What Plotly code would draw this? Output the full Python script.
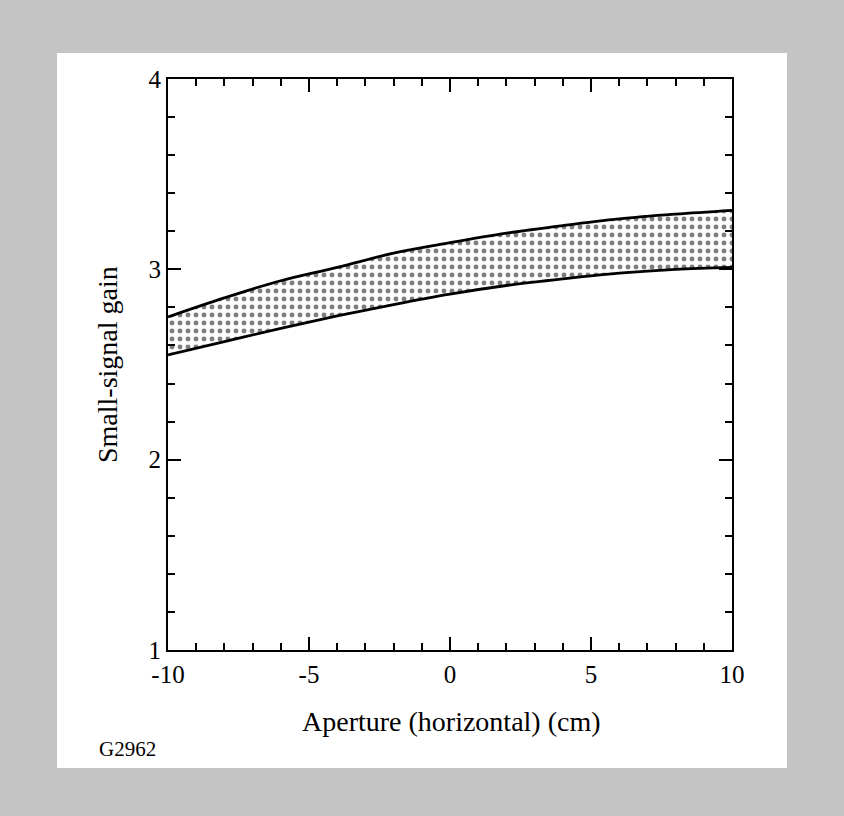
import plotly.graph_objects as go

aperture_cm = [-10, -8, -6, -4, -2, 0, 2, 4, 6, 8, 10]
gain_upper = [2.75, 2.85, 2.94, 3.01, 3.085, 3.14, 3.19, 3.23, 3.265, 3.29, 3.31]
gain_lower = [2.55, 2.62, 2.69, 2.755, 2.815, 2.87, 2.915, 2.95, 2.98, 3.00, 3.01]

x_ticks = [-10, -5, 0, 5, 10]
y_ticks = [1, 2, 3, 4]

FONT = "Liberation Serif, Times New Roman, serif"

fig = go.Figure()
fig.add_trace(go.Scatter(x=aperture_cm, y=gain_lower, mode="lines",
                         line=dict(color="black", width=2.8, shape="spline"),
                         showlegend=False, hoverinfo="skip"))
fig.add_trace(go.Scatter(x=aperture_cm, y=gain_upper, mode="lines",
                         line=dict(color="black", width=2.8, shape="spline"),
                         fill="tonexty", fillcolor="white",
                         fillpattern=dict(shape=".", size=8, solidity=0.3,
                                          fgcolor="black", bgcolor="white"),
                         showlegend=False, hoverinfo="skip"))

axis_common = dict(showgrid=False, zeroline=False, showline=True, linecolor="black",
                   linewidth=2, mirror="ticks", ticks="inside", ticklen=13, tickwidth=1.8,
                   tickcolor="black", tickfont=dict(family=FONT, size=25, color="black"))

fig.update_xaxes(range=[-10, 10], tickvals=x_ticks, ticktext=[str(v) for v in x_ticks],
                 minor=dict(dtick=1, ticks="inside", ticklen=7, tickwidth=1.6, tickcolor="black"),
                 ticklabelstandoff=1, **axis_common)
fig.update_yaxes(range=[1, 4], tickvals=y_ticks, ticktext=[str(v) for v in y_ticks],
                 minor=dict(dtick=0.2, ticks="inside", ticklen=7, tickwidth=1.6, tickcolor="black"),
                 **axis_common)

fig.add_shape(type="rect", xref="paper", yref="paper", x0=-0.1968, x1=1.0975,
              y0=-0.2067, y1=1.0455, fillcolor="white", line=dict(width=0), layer="below")

fig.add_annotation(text="Aperture (horizontal) (cm)", xref="paper", yref="paper",
                   x=(451 - 168) / 564, y=(650 - 721) / 571, xanchor="center", yanchor="middle",
                   showarrow=False, font=dict(family=FONT, size=28, color="black"))
fig.add_annotation(text="Small-signal gain", xref="paper", yref="paper",
                   x=(107 - 168) / 564, y=(650 - 365) / 571, xanchor="center", yanchor="middle",
                   textangle=-90, showarrow=False,
                   font=dict(family=FONT, size=28, color="black"))
fig.add_annotation(text="G2962", xref="paper", yref="paper",
                   x=(97 - 168) / 564, y=(650 - 749) / 571, xanchor="left", yanchor="middle",
                   showarrow=False, font=dict(family=FONT, size=21, color="black"))

fig.update_layout(width=844, height=816, margin=dict(l=168, r=112, t=79, b=166),
                  paper_bgcolor="#c4c4c4", plot_bgcolor="white", showlegend=False)

fig.write_html("out.html")
